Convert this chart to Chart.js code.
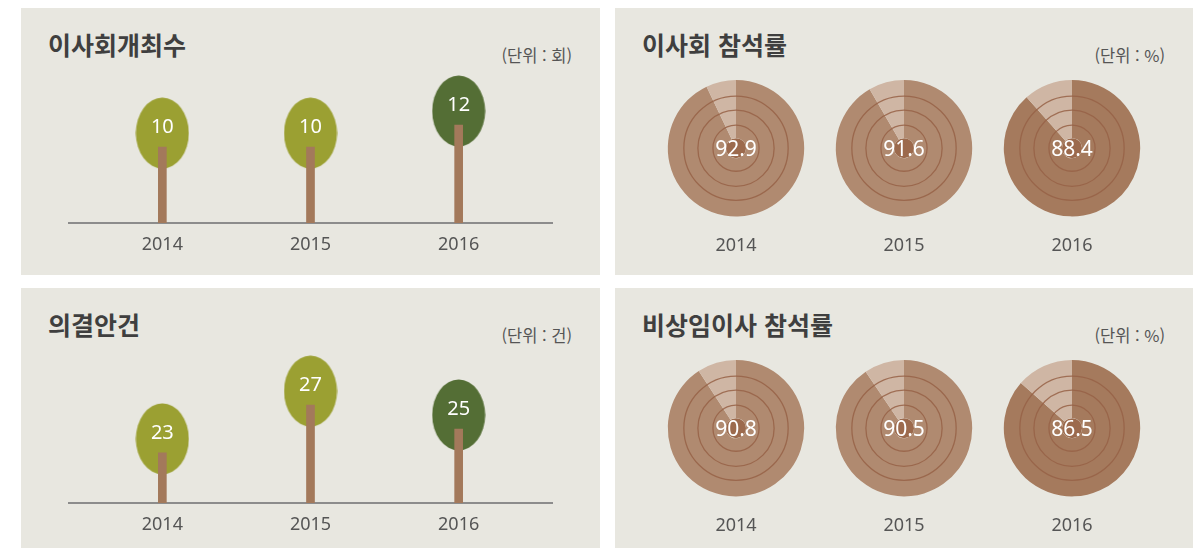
<!DOCTYPE html>
<html lang="ko">
<head>
<meta charset="utf-8">
<script src="https://cdn.jsdelivr.net/npm/chart.js@4.4.1/dist/chart.umd.min.js"></script>
<style>
    body {
        margin: 0;
        background: #fff;
        width: 1202px;
        height: 549px;
        overflow: hidden;
        font-family: 'Noto Sans', 'Noto Sans CJK KR', sans-serif;
    }
    .panel {
        position: absolute;
        background: #e8e7e0;
    }
    .panel h2 {
        position: absolute;
        margin: 0;
        top: 24px;
        left: 27px;
        font: bold 25px/25px 'Noto Sans CJK KR', sans-serif;
        color: #3f3f3f;
        white-space: nowrap;
    }
    .panel .unit {
        position: absolute;
        right: 28px;
        top: 38px;
        font: 16.5px/18px 'Noto Sans CJK KR', sans-serif;
        color: #555;
        white-space: nowrap;
    }
    .panel canvas {
        position: absolute;
    }
</style>
</head>
<body>

<div class="panel" style="left:21px; top:8px; width:579px; height:267px;">
    <h2>이사회개최수</h2>
    <div class="unit">(단위 : 회)</div>
    <canvas id="meetingChart" width="579" height="267" style="left:0; top:0;"></canvas>
</div>

<div class="panel" style="left:615px; top:8px; width:578px; height:267px;">
    <h2>이사회 참석률</h2>
    <div class="unit">(단위 : %)</div>
    <canvas id="board0" width="160" height="177" style="left:41px; top:72px;"></canvas>
    <canvas id="board1" width="160" height="177" style="left:209px; top:72px;"></canvas>
    <canvas id="board2" width="160" height="177" style="left:377px; top:72px;"></canvas>
</div>

<div class="panel" style="left:21px; top:288px; width:579px; height:260px;">
    <h2>의결안건</h2>
    <div class="unit">(단위 : 건)</div>
    <canvas id="agendaChart" width="579" height="260" style="left:0; top:0;"></canvas>
</div>

<div class="panel" style="left:615px; top:288px; width:578px; height:260px;">
    <h2>비상임이사 참석률</h2>
    <div class="unit">(단위 : %)</div>
    <canvas id="outside0" width="160" height="177" style="left:41px; top:72px;"></canvas>
    <canvas id="outside1" width="160" height="177" style="left:209px; top:72px;"></canvas>
    <canvas id="outside2" width="160" height="177" style="left:377px; top:72px;"></canvas>
</div>

<script>
// data
const years = ['2014', '2015', '2016'];
const meetingCounts = [10, 10, 12];
const agendaCounts = [23, 27, 25];
const boardAttendance = [92.9, 91.6, 88.4];
const outsideAttendance = [90.8, 90.5, 86.5];

const FONT = "'Noto Sans', 'Noto Sans CJK KR', sans-serif";
Chart.defaults.font.family = FONT;

const TRUNK = '#a3795b';
const LEAF = '#9ba032';
const LEAF_LAST = '#546e35';
const PIE = '#b08a70';
const PIE_LAST = '#a57a5d';
const PIE_REST = '#cfb6a4';
const PIE_CORE = '#9c6a4d';

// leaf = ellipse image, its centre sits a bit above the trunk top
function leafImage(color) {
    const c = document.createElement('canvas');
    c.width = 54;
    c.height = 100;
    const g = c.getContext('2d');
    g.fillStyle = color;
    g.beginPath();
    g.ellipse(27, 36, 26.5, 35.5, 0, 0, Math.PI * 2);
    g.fill();
    return c;
}
const leafLight = leafImage(LEAF);
const leafDark = leafImage(LEAF_LAST);

// white numbers inside the leaves
const leafLabels = {
    id: 'leafLabels',
    afterDatasetsDraw(chart) {
        const meta = chart.getDatasetMeta(1);
        const ctx = chart.ctx;
        ctx.save();
        ctx.fillStyle = '#fff';
        ctx.font = '20px ' + FONT;
        ctx.textAlign = 'center';
        ctx.textBaseline = 'middle';
        meta.data.forEach((pt, i) => {
            ctx.fillText(chart.data.datasets[1].data[i].y, pt.x, pt.y - 20);
        });
        ctx.restore();
    }
};

function makeTree(id, values, yMin, yMax, bottomPad) {
    const points = values.map((v, i) => ({ x: i, y: v }));
    new Chart(document.getElementById(id), {
        type: 'bar',
        data: {
            datasets: [{
                type: 'bar',
                data: points,
                backgroundColor: TRUNK,
                barThickness: 8,
                order: 0
            }, {
                type: 'line',
                data: points,
                showLine: false,
                pointStyle: values.map((v, i) => i === values.length - 1 ? leafDark : leafLight),
                pointRadius: 5,
                clip: false,
                order: 1
            }]
        },
        options: {
            responsive: false,
            animation: false,
            events: [],
            layout: { padding: { left: 48, right: 48, top: 52, bottom: bottomPad } },
            plugins: {
                legend: { display: false },
                tooltip: { enabled: false }
            },
            scales: {
                x: {
                    type: 'linear',
                    min: -0.63,
                    max: 2.63,
                    offset: false,
                    grid: { display: false, drawTicks: false },
                    border: { display: true, color: '#8c8c8c', width: 2 },
                    afterBuildTicks: axis => {
                        axis.ticks = years.map((y, i) => ({ value: i }));
                    },
                    ticks: {
                        callback: v => years[v],
                        autoSkip: false,
                        maxRotation: 0,
                        padding: 11,
                        color: '#555',
                        font: { size: 18 }
                    }
                },
                y: { display: false, min: yMin, max: yMax }
            }
        },
        plugins: [leafLabels]
    });
}

makeTree('meetingChart', meetingCounts, 3.12, 17.9, 8.5);
makeTree('agendaChart', agendaCounts, 18.8, 32.46, 1.5);

// rings + value in the middle of each pie
const pieRings = {
    id: 'pieRings',
    afterDatasetsDraw(chart) {
        const arc = chart.getDatasetMeta(0).data[0];
        const ctx = chart.ctx;
        const R = arc.outerRadius;
        ctx.save();
        ctx.strokeStyle = 'rgba(150, 98, 70, 0.85)';
        ctx.lineWidth = 1.3;
        [52, 38, 23].forEach(r => {
            ctx.beginPath();
            ctx.arc(arc.x, arc.y, R * r / 68, 0, Math.PI * 2);
            ctx.stroke();
        });
        ctx.fillStyle = '#fff';
        ctx.font = '21px ' + FONT;
        ctx.textAlign = 'center';
        ctx.textBaseline = 'middle';
        ctx.fillText(chart.data.datasets[0].data[0].toFixed(1), arc.x, arc.y + 1.5);
        ctx.restore();
    }
};

function makePie(id, value, year, isLast) {
    new Chart(document.getElementById(id), {
        type: 'pie',
        data: {
            datasets: [{
                data: [value, +(100 - value).toFixed(1)],
                backgroundColor: [isLast ? PIE_LAST : PIE, PIE_REST],
                borderWidth: 0,
                weight: 58
            }, {
                data: [1],
                backgroundColor: [PIE_CORE],
                borderWidth: 0,
                weight: 10
            }]
        },
        options: {
            responsive: false,
            animation: false,
            events: [],
            plugins: {
                legend: { display: false },
                tooltip: { enabled: false },
                title: {
                    display: true,
                    position: 'bottom',
                    text: year,
                    color: '#555',
                    font: { size: 18, weight: 'normal' },
                    padding: { top: 19, bottom: 0 }
                }
            }
        },
        plugins: [pieRings]
    });
}

years.forEach((y, i) => {
    makePie('board' + i, boardAttendance[i], y, i === years.length - 1);
    makePie('outside' + i, outsideAttendance[i], y, i === years.length - 1);
});
</script>
</body>
</html>
